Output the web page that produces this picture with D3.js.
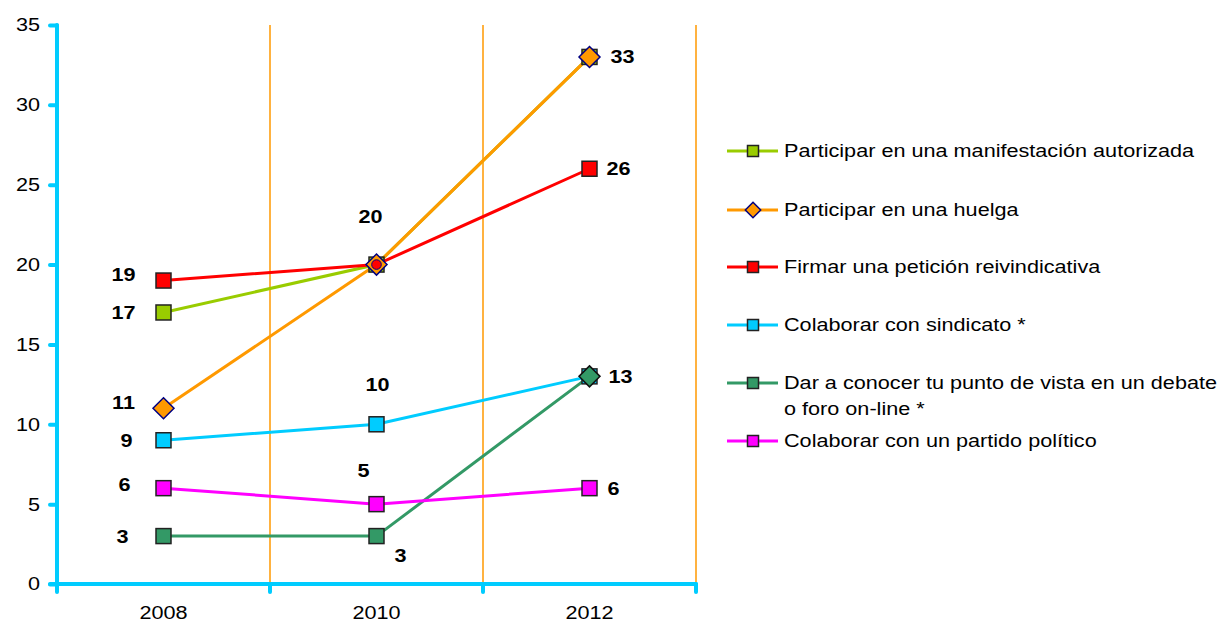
<!DOCTYPE html>
<html>
<head>
<meta charset="utf-8">
<script src="https://cdn.jsdelivr.net/npm/d3@7"></script>
<style>
  body { margin: 0; background: #fff; }
  text { font-family: Arial, "Liberation Sans", sans-serif; }
</style>
</head>
<body>
<div class="chart-wrapper"></div>
<script>
const years = ['2008', '2010', '2012']
const yTicks = [0, 5, 10, 15, 20, 25, 30, 35]

const names = [
  'Participar en una manifestación autorizada',
  'Participar en una huelga',
  'Firmar una petición reivindicativa',
  'Colaborar con sindicato *',
  'Dar a conocer tu punto de vista en un debate|o foro on-line *',
  'Colaborar con un partido político'
]

const manifestacion = [17, 20, 33]
const huelga = [11, 20, 33]
const peticion = [19, 20, 26]
const sindicato = [9, 10, 13]
const debate = [3, 3, 13]
const partido = [6, 5, 6]

const values = [manifestacion, huelga, peticion, sindicato, debate, partido]

// look of each series
const colors = ['#99CC00', '#FF9900', '#FF0000', '#00CCFF', '#339966', '#FF00FF']
const shapes = ['square', 'diamond', 'square', 'square', 'square', 'square']

// which point carries the value label, and where it sits [dx, dy]
const labels = [
  [[-40, 0], null, null],
  [[-40, -6], null, [33, 0]],
  [[-40, -6], [-6, -48], [29, 0]],
  [[-37, 0], [1, -40], [31, 0]],
  [[-41, 0], [24, 19], null],
  [[-39, -4], [-13, -34], [24, 0]]
]

const width = 1221, height = 625
const margin = {left: 57, right: 525, top: 25, bottom: 41}
const stretch = 1.17
const fontSize = 18.5

const svg = d3.select('.chart-wrapper')
.append('svg')
.attr('width', width)
.attr('height', height)

const x = d3.scaleBand()
.domain(years)
.range([margin.left, width - margin.right])

const y = d3.scaleLinear()
.domain([0, 35])
.range([height - margin.bottom, margin.top])

const cyan = '#00CCFF'

// text in the original is a bit wider than plain Arial
const wideText = (sel, tx, ty) => sel
.attr('x', 0).attr('y', 0)
.attr('transform', `translate(${tx},${ty}) scale(${stretch},1)`)
.attr('font-size', fontSize)
.attr('fill', '#000')
.attr('font-family', 'Arial, "Liberation Sans", sans-serif')

// vertical orange lines between the years
svg.append('g')
.selectAll('line')
.data(years)
.enter()
.append('line')
.attr('x1', d => x(d) + x.bandwidth())
.attr('x2', d => x(d) + x.bandwidth())
.attr('y1', y(35))
.attr('y2', y(0))
.attr('stroke', '#FF9900')
.attr('stroke-width', 1.5)

// y axis
const yAxis = svg.append('g')
.attr('transform', `translate(${margin.left},0)`)
.call(d3.axisLeft(y).tickValues(yTicks).tickSize(7).tickPadding(5))

yAxis.select('.domain').remove()
yAxis.selectAll('.tick line').attr('stroke', cyan).attr('stroke-width', 4).attr('stroke-linecap', 'round')
yAxis.selectAll('.tick text').call(wideText, -17, 0)

svg.append('line')
.attr('x1', margin.left).attr('x2', margin.left)
.attr('y1', y(35)).attr('y2', y(0) + 8)
.attr('stroke', cyan).attr('stroke-width', 4).attr('stroke-linecap', 'round')

// x axis
const xAxis = svg.append('g')
.attr('transform', `translate(0,${y(0)})`)
.call(d3.axisBottom(x).tickSize(0))

xAxis.select('.domain').remove()
xAxis.selectAll('.tick text').call(wideText, 0, 22).attr('dy', '0.71em')

svg.append('line')
.attr('x1', margin.left - 7).attr('x2', x(years[2]) + x.bandwidth())
.attr('y1', y(0)).attr('y2', y(0))
.attr('stroke', cyan).attr('stroke-width', 4).attr('stroke-linecap', 'round')

svg.append('g')
.selectAll('line')
.data(years)
.enter()
.append('line')
.attr('x1', d => x(d) + x.bandwidth())
.attr('x2', d => x(d) + x.bandwidth())
.attr('y1', y(0))
.attr('y2', y(0) + 8)
.attr('stroke', cyan).attr('stroke-width', 4).attr('stroke-linecap', 'round')

const cx = i => x(years[i]) + x.bandwidth() / 2

const line = d3.line()
.x((d, i) => cx(i))
.y(d => y(d))

const drawMarker = (g, shape, color, px, py, size, edge) => {
  if (shape === 'diamond') {
    const r = size * 0.7
    g.append('path')
    .attr('d', `M${px},${py - r}L${px + r},${py}L${px},${py + r}L${px - r},${py}Z`)
    .attr('fill', color)
    .attr('stroke', edge || '#000080')
    .attr('stroke-width', 1.5)
  } else if (shape === 'dot') {
    g.append('circle')
    .attr('cx', px).attr('cy', py).attr('r', size * 0.32)
    .attr('fill', color)
    .attr('stroke', '#000080')
    .attr('stroke-width', 1)
  } else {
    g.append('rect')
    .attr('x', px - size / 2).attr('y', py - size / 2)
    .attr('width', size).attr('height', size)
    .attr('fill', color)
    .attr('stroke', '#222')
    .attr('stroke-width', 1.5)
  }
}

// a few markers look different where series overlap in the original
const overrides = {'2-1': 'dot', '4-2': 'diamond'}

values.forEach((v, s) => {
  svg.append('path')
  .datum(v)
  .attr('d', line)
  .attr('fill', 'none')
  .attr('stroke', colors[s])
  .attr('stroke-width', 3)
})

values.forEach((v, s) => {
  const g = svg.append('g')
  v.forEach((d, i) => {
    const shape = overrides[s + '-' + i] || shapes[s]
    drawMarker(g, shape, colors[s], cx(i), y(d), 15, s === 4 ? '#111' : null)
  })
})

// value labels
values.forEach((v, s) => {
  v.forEach((d, i) => {
    const off = labels[s][i]
    if (!off) return
    svg.append('text')
    .call(wideText, cx(i) + off[0], y(d) + off[1])
    .attr('dy', '0.35em')
    .attr('text-anchor', 'middle')
    .attr('font-weight', 'bold')
    .text(d)
  })
})

// legend
const legendRows = [151, 210, 267, 325, 383, 441]
const legend = svg.append('g')

names.forEach((n, s) => {
  const ly = legendRows[s]
  legend.append('line')
  .attr('x1', 727).attr('x2', 778)
  .attr('y1', ly).attr('y2', ly)
  .attr('stroke', colors[s])
  .attr('stroke-width', 3)

  drawMarker(legend, shapes[s], colors[s], 753, ly, 11)

  n.split('|').forEach((part, k) => {
    legend.append('text')
    .call(wideText, 784, ly + k * 26)
    .attr('dy', '0.35em')
    .text(part)
  })
})
</script>
</body>
</html>
